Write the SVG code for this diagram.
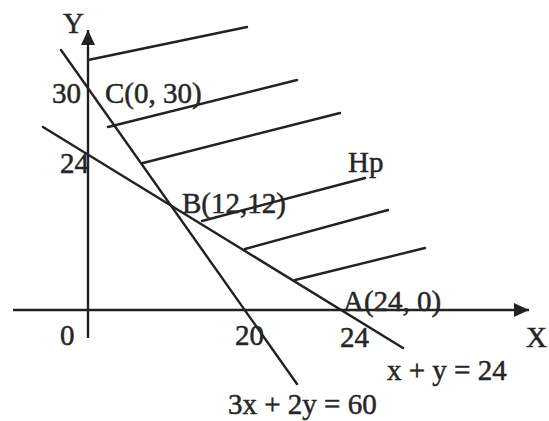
<svg xmlns="http://www.w3.org/2000/svg" width="549" height="421" viewBox="0 0 549 421">
<style>
.ln{stroke:#222;stroke-width:2.4;fill:none;stroke-linecap:round}
.ax{stroke:#222;stroke-width:2.4;fill:none}
text{font-family:"Liberation Serif","Times New Roman",serif;font-size:29px;fill:#262626;stroke:#262626;stroke-width:0.5}
</style>
<defs>
<marker id="arr" markerUnits="userSpaceOnUse" markerWidth="16" markerHeight="16" refX="15" refY="7" orient="auto">
<path d="M0,0 L15,7 L0,14 Z" fill="#222"/>
</marker>
</defs>
<rect width="549" height="421" fill="#fff"/>
<g id="axes">
<line class="ax" x1="13" y1="310" x2="529" y2="310" marker-end="url(#arr)"/>
<line class="ax" x1="88" y1="338" x2="88" y2="30" marker-end="url(#arr)"/>
</g>
<g id="constraints">
<line class="ln" x1="61" y1="50" x2="297" y2="384"/>
<line class="ln" x1="43" y1="127" x2="403" y2="348"/>
</g>
<g id="hatching">
<line class="ln" x1="88" y1="60" x2="247" y2="27"/>
<line class="ln" x1="108" y1="127" x2="297" y2="80"/>
<line class="ln" x1="143" y1="163" x2="340" y2="113"/>
<line class="ln" x1="202" y1="221" x2="365" y2="178"/>
<line class="ln" x1="245" y1="249" x2="388" y2="210"/>
<line class="ln" x1="295" y1="280" x2="425" y2="248"/>
</g>
<g id="labels">
<text x="63" y="33">Y</text>
<text x="52" y="103">30</text>
<text x="105" y="103">C(0, 30)</text>
<text x="60" y="173">24</text>
<text x="182" y="213">B(12,12)</text>
<text x="348" y="172">Hp</text>
<text x="343" y="311">A(24, 0)</text>
<text x="60" y="345">0</text>
<text x="235" y="345">20</text>
<text x="340" y="347">24</text>
<text x="526" y="347">X</text>
<text x="387" y="380">x + y = 24</text>
<text x="228" y="414">3x + 2y = 60</text>
</g>
</svg>
